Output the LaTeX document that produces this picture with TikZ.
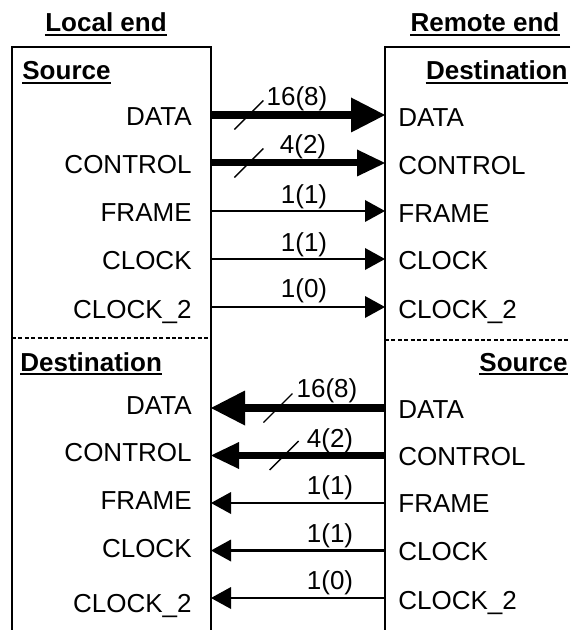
\documentclass[tikz,border=0pt]{standalone}
\usepackage{fontspec}
\setmainfont{Liberation Sans}
\usetikzlibrary{arrows.meta, calc}

\tikzset{
  sigtext/.style={font=\fontsize{13}{15}\selectfont, inner sep=0pt},
  headtext/.style={font=\fontsize{13}{15}\selectfont\bfseries, inner sep=0pt},
  headline/.style={line width=1pt},
  frameline/.style={line width=0.8pt},
  splitline/.style={line width=0.6pt, dash pattern=on 2pt off 1.2pt},
  wire/.style={line width=1.1pt, -{Triangle[length=10pt, width=11pt, line width=0pt]}},
  ctrlbus/.style={line width=3.5pt, -{Triangle[length=14pt, width=13.5pt, line width=0pt]}},
  databus/.style={line width=3.8pt, -{Triangle[length=17pt, width=17.5pt, line width=0pt]}},
  tick/.style={line width=0.7pt}
}

\begin{document}
\begin{tikzpicture}[x=0.5pt, y=-0.5pt]
    \useasboundingbox (0,0) rectangle (570,630);
    % the two ends
    \draw[frameline] (12,630) -- (12,47) -- (211,47) -- (211,630);
    \draw[frameline] (570,47) -- (385,47) -- (385,630);
    \draw[splitline] (12,338) -- (211,338);
    \draw[splitline] (385,340) -- (570,340);
    % headings
    \node[headtext, anchor=base] (localEnd) at (106,32) {Local end};
    \node[headtext, anchor=base] (remoteEnd) at (485,32) {Remote end};
    \node[headtext, anchor=base west] (srcTop) at (22,80) {Source};
    \node[headtext, anchor=base east] (dstTop) at (568,80) {Destination};
    \node[headtext, anchor=base west] (dstBot) at (20,371) {Destination};
    \node[headtext, anchor=base east] (srcBot) at (568,371) {Source};
    \foreach \n in {localEnd, remoteEnd, srcTop, dstTop, dstBot, srcBot}
        \draw[headline] ([yshift=-1.5pt]\n.base west) -- ([yshift=-1.5pt]\n.base east);
    % local source signals
    \node[sigtext, anchor=base east] (L1) at (192,126) {DATA};
    \node[sigtext, anchor=base east] (L2) at (192,174) {CONTROL};
    \node[sigtext, anchor=base east] (L3) at (192,222) {FRAME};
    \node[sigtext, anchor=base east] (L4) at (192,270) {CLOCK};
    \node[sigtext, anchor=base east] (L5) at (192,318) {CLOCK\_2};
    % remote destination signals
    \node[sigtext, anchor=base west] (R1) at (398,127) {DATA};
    \node[sigtext, anchor=base west] (R2) at (398,175) {CONTROL};
    \node[sigtext, anchor=base west] (R3) at (398,223) {FRAME};
    \node[sigtext, anchor=base west] (R4) at (398,270) {CLOCK};
    \node[sigtext, anchor=base west] (R5) at (398,318) {CLOCK\_2};
    % local destination signals
    \node[sigtext, anchor=base east] (L6) at (192,414) {DATA};
    \node[sigtext, anchor=base east] (L7) at (192,461) {CONTROL};
    \node[sigtext, anchor=base east] (L8) at (192,509) {FRAME};
    \node[sigtext, anchor=base east] (L9) at (192,557) {CLOCK};
    \node[sigtext, anchor=base east] (L10) at (192,612) {CLOCK\_2};
    % remote source signals
    \node[sigtext, anchor=base west] (R6) at (398,418) {DATA};
    \node[sigtext, anchor=base west] (R7) at (398,465) {CONTROL};
    \node[sigtext, anchor=base west] (R8) at (398,512) {FRAME};
    \node[sigtext, anchor=base west] (R9) at (398,560) {CLOCK};
    \node[sigtext, anchor=base west] (R10) at (398,609) {CLOCK\_2};
    % link end points on the frames
    \coordinate (a1) at (211,115);   \coordinate (b1) at (385,115);
    \coordinate (a2) at (211,163);   \coordinate (b2) at (385,163);
    \coordinate (a3) at (211,211);   \coordinate (b3) at (385,211);
    \coordinate (a4) at (211,259);   \coordinate (b4) at (385,259);
    \coordinate (a5) at (211,307);   \coordinate (b5) at (385,307);
    \coordinate (a6) at (211,408);   \coordinate (b6) at (385,408);
    \coordinate (a7) at (211,455.5); \coordinate (b7) at (385,455.5);
    \coordinate (a8) at (211,503);   \coordinate (b8) at (385,503);
    \coordinate (a9) at (211,550.5); \coordinate (b9) at (385,550.5);
    \coordinate (a10) at (211,598);  \coordinate (b10) at (385,598);
    % local to remote
    \draw[databus] (a1) -- (b1) coordinate[pos=0.218] (m1);
    \draw[ctrlbus] (a2) -- (b2) coordinate[pos=0.218] (m2);
    \draw[wire] (a3) -- (b3);
    \draw[wire] (a4) -- (b4);
    \draw[wire] (a5) -- (b5);
    % remote to local
    \draw[databus] (b6) -- (a6) coordinate[pos=0.615] (m6);
    \draw[ctrlbus] (b7) -- (a7) coordinate[pos=0.58] (m7);
    \draw[wire] (b8) -- (a8);
    \draw[wire] (b9) -- (a9);
    \draw[wire] (b10) -- (a10);
    % bus width marks
    \foreach \m in {m1, m2, m6, m7}
        \draw[tick] ($(\m)+(-14.5,14.5)$) -- ($(\m)+(14.5,-14.5)$);
    % widths
    \node[sigtext, anchor=base] (w1) at (297,106) {16(8)};
    \node[sigtext, anchor=base] (w2) at (303,154) {4(2)};
    \node[sigtext, anchor=base] (w3) at (304,204) {1(1)};
    \node[sigtext, anchor=base] (w4) at (304,251) {1(1)};
    \node[sigtext, anchor=base] (w5) at (304,297) {1(0)};
    \node[sigtext, anchor=base] (w6) at (327,397) {16(8)};
    \node[sigtext, anchor=base] (w7) at (330,447) {4(2)};
    \node[sigtext, anchor=base] (w8) at (330,494) {1(1)};
    \node[sigtext, anchor=base] (w9) at (330,542) {1(1)};
    \node[sigtext, anchor=base] (w10) at (330,589) {1(0)};
\end{tikzpicture}
\end{document}
